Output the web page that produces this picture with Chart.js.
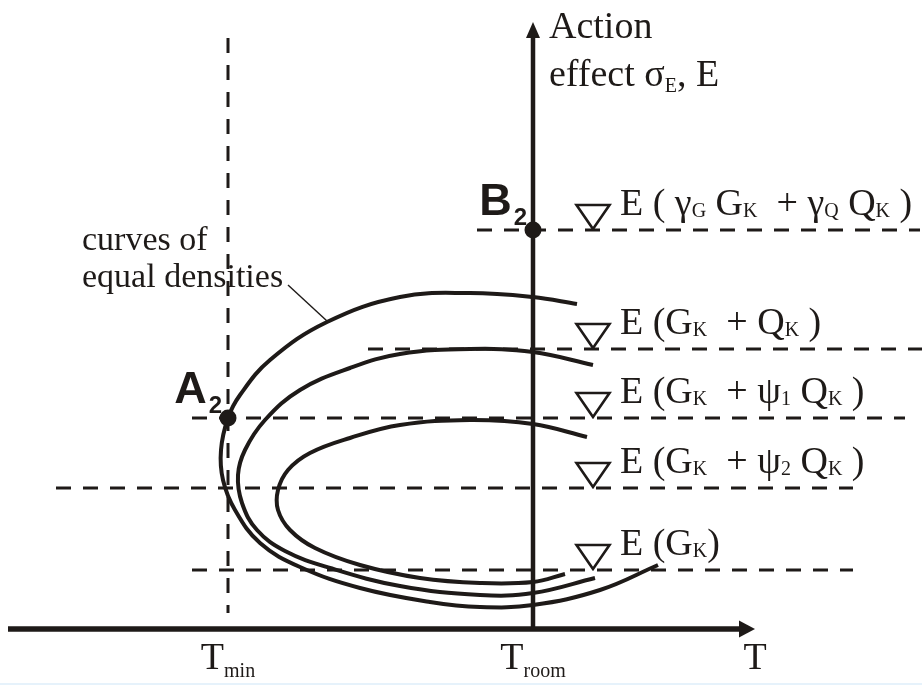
<!DOCTYPE html>
<html>
<head>
<meta charset="utf-8">
<script src="https://cdn.jsdelivr.net/npm/chart.js@4/dist/chart.umd.min.js"></script>
<style>
  html, body { margin: 0; padding: 0; background: #ffffff; }
  #wrap { width: 922px; height: 685px; }
</style>
</head>
<body>
<div id="wrap"><canvas id="c" width="922" height="685"></canvas></div>
<script>
// ---- Scale ranges (temperature T across, action effect E up) ----
const T_RANGE = [0, 92.2];
const E_RANGE = [0, 68.5];

// ---- Reference temperatures ----
const T_MIN = 22.8;
const T_ROOM = 53.3;

// ---- Axes ----
const T_AXIS_LEVEL = 5.6;           // E value where the T axis runs
const T_AXIS_SPAN = [0.8, 75.5];    // T axis from .. to (arrow tip)
const E_AXIS_TOP = 66.3;            // E axis arrow tip

// ---- Action-effect levels and the extent of their dashed lines ----
const levelValues = [45.5, 33.6, 26.7, 19.7, 11.5];
const levelSpans = [[47.7, 92.0], [36.8, 92.2], [19.2, 90.5], [5.6, 85.3], [19.2, 85.3]];
const levelMarkerT = 59.3;
// label text parts: [text, isSubscript]
const levelLabels = [
  [['E ( ', 0], ['γ', 0], ['G', 1], [' G', 0], ['K', 1], ['  + ', 0], ['γ', 0], ['Q', 1], [' Q', 0], ['K', 1], [' )', 0]],
  [['E (G', 0], ['K', 1], ['  + Q', 0], ['K', 1], [' )', 0]],
  [['E (G', 0], ['K', 1], ['  + ψ', 0], ['1', 1], [' Q', 0], ['K', 1], [' )', 0]],
  [['E (G', 0], ['K', 1], ['  + ψ', 0], ['2', 1], [' Q', 0], ['K', 1], [' )', 0]],
  [['E (G', 0], ['K', 1], [')', 0]]
];

// ---- Lower limit line at T_min ----
const tMinSpan = [7.2, 64.7];

// ---- Curves of equal densities (T, E) ----
const curveOuter = [
  [57.7, 38.1], [53.3, 38.8], [47.0, 39.2], [40.0, 38.8], [32.7, 36.3], [27.0, 32.5],
  [24.0, 29.0], [22.8, 26.7], [22.1, 23.5], [22.3, 20.5], [23.5, 17.5], [26.0, 14.2],
  [30.0, 11.8], [36.0, 9.7], [43.0, 8.3], [48.0, 7.8], [53.3, 8.0], [60.0, 9.5], [65.8, 12.0]
];
const curveMiddle = [
  [59.3, 32.0], [53.3, 33.3], [47.0, 33.6], [40.0, 33.1], [35.0, 31.7], [30.0, 29.5],
  [26.5, 26.5], [24.5, 23.5], [23.8, 21.0], [24.2, 18.2], [25.7, 15.5], [28.5, 13.4],
  [33.0, 11.7], [40.0, 9.9], [48.0, 9.0], [53.3, 9.2], [59.5, 10.7]
];
const curveInner = [
  [58.7, 24.8], [53.3, 26.1], [47.0, 26.5], [40.0, 26.0], [35.0, 24.7], [31.0, 23.2],
  [28.8, 21.5], [27.8, 19.5], [27.8, 17.5], [29.0, 15.5], [31.5, 13.7], [36.0, 12.0],
  [42.0, 10.7], [48.0, 10.2], [53.3, 10.3], [56.5, 11.1]
];

// ---- Design points ----
const designPoints = [
  { name: 'A', sub: '2', T: T_MIN, E: levelValues[2] },
  { name: 'B', sub: '2', T: T_ROOM, E: levelValues[0] }
];

// ---- Callout for the curves ----
const calloutText = ['curves of', 'equal densities'];
const calloutAnchor = [8.2, 43.5];
const calloutLeader = [[28.8, 40.0], [32.7, 36.4]];

// ---- Axis titles and tick labels ----
const eAxisTitle = [
  [['Action', 0]],
  [['effect ', 0], ['σ', 0], ['E', 1], [', E', 0]]
];
const tTickLabels = [
  { T: T_MIN, parts: [['T', 0], ['min', 1]] },
  { T: T_ROOM, parts: [['T', 0], ['room', 1]] },
  { T: 75.5, parts: [['T', 0]] }
];

const INK = '#1e1a18';
const SERIF = '"Liberation Serif", "Times New Roman", serif';
const SANS = '"Liberation Sans", Arial, sans-serif';

const pts = arr => arr.map(([x, y]) => ({ x, y }));

function lineSet(data, width, dash, order) {
  return {
    type: 'scatter', data, showLine: true, borderColor: INK, borderWidth: width,
    borderDash: dash || [], pointRadius: 0, pointHoverRadius: 0, tension: 0,
    fill: false, order, borderCapStyle: 'butt'
  };
}
function curveSet(data) {
  return {
    type: 'scatter', data: pts(data), showLine: true, borderColor: INK, borderWidth: 4,
    pointRadius: 0, pointHoverRadius: 0, tension: 0.4, fill: false, order: 1,
    borderCapStyle: 'butt', borderJoinStyle: 'round'
  };
}

const DASH = [15, 12];
const datasets = [];
// design points on top
datasets.push({
  type: 'scatter', data: designPoints.map(p => ({ x: p.T, y: p.E })),
  pointRadius: 8.5, pointBackgroundColor: INK, pointBorderWidth: 0, order: 0
});
datasets.push(curveSet(curveOuter), curveSet(curveMiddle), curveSet(curveInner));
datasets.push(lineSet(pts(calloutLeader), 1.4, null, 1));
// axes
datasets.push(lineSet([{ x: T_AXIS_SPAN[0], y: T_AXIS_LEVEL }, { x: T_AXIS_SPAN[1] - 1.4, y: T_AXIS_LEVEL }], 5.5, null, 2));
datasets.push(lineSet([{ x: T_ROOM, y: T_AXIS_LEVEL }, { x: T_ROOM, y: E_AXIS_TOP - 1.4 }], 4.5, null, 2));
// dashed levels
levelValues.forEach((v, i) => {
  datasets.push(lineSet([{ x: levelSpans[i][0], y: v }, { x: levelSpans[i][1], y: v }], 3, DASH, 3));
});
datasets.push(lineSet([{ x: T_MIN, y: tMinSpan[1] }, { x: T_MIN, y: tMinSpan[0] }], 3, DASH, 3));

function drawParts(ctx, x, y, parts, size, subSize, subDrop, align) {
  let total = 0;
  for (const [s, sub] of parts) {
    ctx.font = `${sub ? subSize : size}px ${SERIF}`;
    total += ctx.measureText(s).width;
  }
  let cx = align === 'center' ? x - total / 2 : x;
  for (const [s, sub] of parts) {
    ctx.font = `${sub ? subSize : size}px ${SERIF}`;
    ctx.fillText(s, cx, y + (sub ? subDrop : 0));
    cx += ctx.measureText(s).width;
  }
}

const decorations = {
  id: 'decorations',
  beforeDraw(chart) {
    const { ctx, width, height } = chart;
    ctx.save();
    ctx.fillStyle = '#ffffff';
    ctx.fillRect(0, 0, width, height);
    ctx.fillStyle = '#e6f2fb';
    ctx.fillRect(0, height - 2, width, 2);
    ctx.restore();
  },
  afterDatasetsDraw(chart) {
    const { ctx } = chart;
    const sx = chart.scales.x, sy = chart.scales.y;
    const px = v => sx.getPixelForValue(v);
    const py = v => sy.getPixelForValue(v);
    ctx.save();
    ctx.fillStyle = INK;
    ctx.strokeStyle = INK;
    ctx.textBaseline = 'alphabetic';

    // arrow heads
    const tx = px(T_AXIS_SPAN[1]), ty = py(T_AXIS_LEVEL);
    ctx.beginPath();
    ctx.moveTo(tx, ty); ctx.lineTo(tx - 16, ty - 8.5); ctx.lineTo(tx - 16, ty + 8.5); ctx.closePath(); ctx.fill();
    const ex = px(T_ROOM), ey = py(E_AXIS_TOP);
    ctx.beginPath();
    ctx.moveTo(ex, ey); ctx.lineTo(ex - 7, ey + 16); ctx.lineTo(ex + 7, ey + 16); ctx.closePath(); ctx.fill();

    // level markers and labels
    levelValues.forEach((v, i) => {
      const mx = px(levelMarkerT), my = py(v);
      ctx.beginPath();
      ctx.moveTo(mx, my - 1);
      ctx.lineTo(mx - 16.5, my - 25);
      ctx.lineTo(mx + 16.5, my - 25);
      ctx.closePath();
      ctx.fillStyle = '#ffffff';
      ctx.fill();
      ctx.lineWidth = 2.6;
      ctx.lineJoin = 'miter';
      ctx.stroke();
      ctx.fillStyle = INK;
      drawParts(ctx, mx + 27, my - 15, levelLabels[i], 38, 20, 2, 'left');
    });

    // axis title
    const atx = px(T_ROOM) + 16;
    drawParts(ctx, atx, 38, eAxisTitle[0], 38, 20, 5, 'left');
    drawParts(ctx, atx, 86, eAxisTitle[1], 38, 20, 6, 'left');

    // tick labels under the T axis
    tTickLabels.forEach(t => drawParts(ctx, px(t.T), ty + 40, t.parts, 38, 20, 8, 'center'));

    // callout
    ctx.font = `34px ${SERIF}`;
    ctx.fillText(calloutText[0], px(calloutAnchor[0]), py(calloutAnchor[1]));
    ctx.fillText(calloutText[1], px(calloutAnchor[0]), py(calloutAnchor[1]) + 37);

    // design point names
    designPoints.forEach(p => {
      const x0 = px(p.T), y0 = py(p.E);
      ctx.font = `bold 45px ${SANS}`;
      const w = ctx.measureText(p.name).width;
      ctx.font = `bold 24px ${SANS}`;
      const ws = ctx.measureText(p.sub).width;
      const subLeft = x0 - 6 - ws;
      ctx.font = `bold 45px ${SANS}`;
      ctx.fillText(p.name, subLeft - 2 - w, y0 - 15);
      ctx.font = `bold 24px ${SANS}`;
      ctx.fillText(p.sub, subLeft, y0 - 5);
    });
    ctx.restore();
  }
};

new Chart(document.getElementById('c'), {
  type: 'scatter',
  data: { datasets },
  options: {
    responsive: false,
    animation: false,
    devicePixelRatio: 1,
    layout: { padding: 0, autoPadding: false },
    plugins: { legend: { display: false }, tooltip: { enabled: false } },
    events: [],
    scales: {
      x: { type: 'linear', min: T_RANGE[0], max: T_RANGE[1], display: false },
      y: { type: 'linear', min: E_RANGE[0], max: E_RANGE[1], display: false }
    }
  },
  plugins: [decorations]
});
</script>
</body>
</html>
